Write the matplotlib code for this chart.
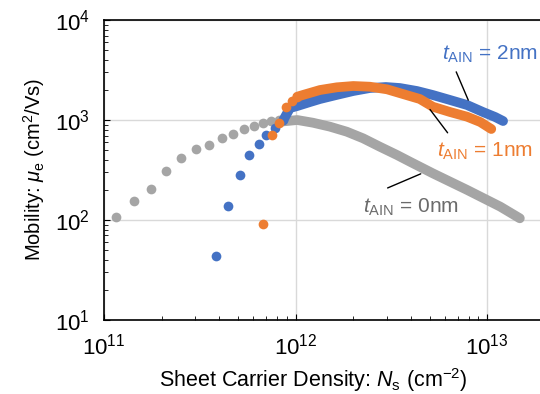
import numpy as np
import matplotlib
matplotlib.use('Agg')
import matplotlib.pyplot as plt

plt.rcParams['font.family'] = ['Liberation Sans', 'DejaVu Sans']
plt.rcParams['mathtext.fontset'] = 'custom'
plt.rcParams['mathtext.rm'] = 'Liberation Sans'
plt.rcParams['mathtext.it'] = 'Liberation Sans:italic'

# t_AlN = 0nm : sparse low-density points, then dense curve
ns_0nm_dots = [1.16e11, 1.44e11, 1.75e11, 2.11e11, 2.52e11, 3.01e11, 3.53e11,
               4.11e11, 4.73e11, 5.36e11, 6.10e11, 6.79e11, 7.48e11, 8.22e11]
mu_0nm_dots = [107, 154, 203, 311, 420, 516, 566, 665, 724, 813, 877, 933, 984, 1000]
ns_0nm_curve = [8.3e11, 1.02e12, 1.23e12, 1.51e12, 1.85e12, 2.25e12, 2.75e12,
                3.38e12, 3.95e12, 5.2e12, 7.85e12, 1.17e13, 1.48e13]
mu_0nm_curve = [962, 1000, 940, 858, 764, 656, 541, 447, 383, 293, 200, 136, 104]

# t_AlN = 1nm
ns_1nm_dots = [6.78e11, 7.5e11, 8.22e11, 8.88e11, 9.55e11, 1.02e12]
mu_1nm_dots = [91, 708, 926, 1358, 1560, 1711]
ns_1nm_curve = [1.02e12, 1.09e12, 1.34e12, 1.64e12, 2.0e12, 2.44e12, 3.0e12,
                3.63e12, 4.45e12, 5.2e12, 6.4e12, 7.85e12, 9.2e12, 1.05e13]
mu_1nm_curve = [1711, 1778, 1995, 2123, 2188, 2153, 2028, 1820, 1622, 1358,
                1202, 1079, 955, 813]

# t_AlN = 2nm
ns_2nm_dots = [3.85e11, 4.46e11, 5.11e11, 5.74e11, 6.41e11, 7.02e11, 7.8e11, 8.63e11]
mu_2nm_dots = [44, 137, 280, 444, 580, 713, 838, 1000]
ns_2nm_curve = [8.63e11, 9.35e11, 1.02e12, 1.19e12, 1.34e12, 1.63e12, 2.0e12,
                2.44e12, 2.96e12, 3.5e12, 4.3e12, 5.2e12, 6.4e12, 7.85e12,
                9.5e12, 1.1e13, 1.21e13]
mu_2nm_curve = [1000, 1318, 1380, 1514, 1622, 1778, 1950, 2089, 2138, 2089, 1950,
                1778, 1585, 1413, 1202, 1072, 977]

gray = '#A5A5A5'
orange = '#ED7D31'
blue = '#4472C4'

fig = plt.figure(figsize=(5.4, 3.94), dpi=100)
ax = fig.add_axes([0.1926, 0.1878, 0.8074, 0.7614])

ms = 7
lw = 7
for ns_d, mu_d, ns_c, mu_c, col in [
        (ns_0nm_dots, mu_0nm_dots, ns_0nm_curve, mu_0nm_curve, gray),
        (ns_2nm_dots, mu_2nm_dots, ns_2nm_curve, mu_2nm_curve, blue),
        (ns_1nm_dots, mu_1nm_dots, ns_1nm_curve, mu_1nm_curve, orange)]:
    ax.plot(ns_d, mu_d, 'o', color=col, ms=ms, mec='none')
    ax.plot(ns_c, mu_c, '-', color=col, lw=lw, solid_capstyle='round',
            solid_joinstyle='round')

ax.set_xscale('log')
ax.set_yscale('log')
ax.set_xlim(1e11, 1.886e13)
ax.set_ylim(10, 1e4)

ax.grid(True, which='major', color='#D9D9D9', lw=1)
ax.set_axisbelow(True)
ax.spines['right'].set_visible(False)
for s in ['left', 'bottom', 'top']:
    ax.spines[s].set_linewidth(1.2)
ax.tick_params(which='both', direction='in', top=False, right=False)
ax.tick_params(which='major', length=4, labelsize=16, pad=10)
ax.tick_params(which='minor', length=3)

ax.set_xlabel('Sheet Carrier Density: $N_{\\rm s}$ (cm$^{\\mathrm{-}2}$)', fontsize=15.5)
ax.xaxis.set_label_coords(0.48, -0.155)
ax.set_ylabel(r'Mobility: $\mu_{\rm e}$ (cm$^2$/Vs)', fontsize=14.5, labelpad=6)

# labels and leader lines
ax.text(5.78e12, 3981, r'$t_{\rm AIN}$ = 2nm', color=blue, fontsize=15, va='baseline')
ax.text(5.5e12, 430, r'$t_{\rm AIN}$ = 1nm', color=orange, fontsize=15, va='baseline')
ax.text(2.24e12, 117, r'$t_{\rm AIN}$ = 0nm', color='#6B6B6B', fontsize=15, va='baseline')
ax.annotate('', xy=(8.07e12, 1490), xytext=(6.8e12, 3214),
            arrowprops=dict(arrowstyle='-', color='black', lw=1))
ax.annotate('', xy=(4.93e12, 1340), xytext=(6.34e12, 708),
            arrowprops=dict(arrowstyle='-', color='black', lw=1))
ax.annotate('', xy=(4.64e12, 297), xytext=(2.93e12, 204),
            arrowprops=dict(arrowstyle='-', color='black', lw=1))

fig.savefig('out.png', dpi=100)
